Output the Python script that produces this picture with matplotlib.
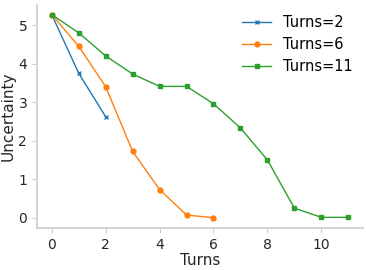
import matplotlib
matplotlib.use("Agg")
import matplotlib.pyplot as plt

turns2 = [5.27, 3.75, 2.62]
turns6 = [5.27, 4.45, 3.40, 1.72, 0.73, 0.07, 0.00]
turns11 = [5.27, 4.80, 4.20, 3.73, 3.41, 3.41, 2.96, 2.33, 1.50, 0.25, 0.01, 0.01]

plt.rcParams['font.family'] = 'DejaVu Sans'
fig, ax = plt.subplots(figsize=(3.66, 2.70), dpi=100)

ax.plot(range(len(turns2)), turns2, marker='x', markersize=3.5, lw=1.0, color='#1f77b4', label='Turns=2')
ax.plot(range(len(turns6)), turns6, marker='o', markersize=3.5, lw=1.0, color='#ff7f0e', label='Turns=6')
ax.plot(range(len(turns11)), turns11, marker='s', markersize=3.5, lw=1.0, color='#2ca02c', label='Turns=11')

ax.set_xlabel("Turns", fontsize=11, color='#262626', labelpad=1)
ax.set_ylabel("Uncertainty", fontsize=11, color='#262626', labelpad=2)
ax.set_xticks([0, 2, 4, 6, 8, 10])
ax.set_yticks([0, 1, 2, 3, 4, 5])
ax.tick_params(labelsize=10, colors='#262626', color='#cccccc')
for s in ['top', 'right']:
    ax.spines[s].set_visible(False)
for s in ['left', 'bottom']:
    ax.spines[s].set_color('#cccccc')
    ax.spines[s].set_linewidth(1.2)
ax.legend(frameon=False, fontsize=10.5, loc='upper right', borderaxespad=0.3)
plt.subplots_adjust(left=0.101, right=0.992, bottom=0.156, top=0.983)
plt.savefig("out.png")
